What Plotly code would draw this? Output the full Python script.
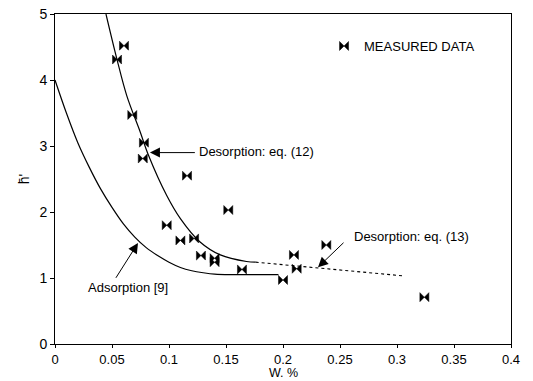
import plotly.graph_objects as go

# Measured data
meas_w = [0.0605, 0.0544, 0.0678, 0.078, 0.077, 0.1158, 0.098, 0.152, 0.110, 0.122,
          0.128, 0.140, 0.140, 0.164, 0.2096, 0.238, 0.212, 0.200, 0.324]
meas_h = [4.52, 4.31, 3.47, 3.05, 2.81, 2.55, 1.80, 2.03, 1.57, 1.60,
          1.34, 1.30, 1.24, 1.13, 1.35, 1.50, 1.14, 0.97, 0.71]

# Desorption eq. (12)
des12_w = [0.0447, 0.0544, 0.063, 0.0746, 0.082, 0.098, 0.11, 0.127, 0.145, 0.168, 0.176]
des12_h = [5.0, 4.31, 3.76, 3.22, 2.86, 2.25, 1.90, 1.55, 1.35, 1.25, 1.24]

# Desorption eq. (13)
des13_w = [0.176, 0.307]
des13_h = [1.24, 1.03]

# Adsorption [9]
ads_w = [0.0, 0.01, 0.02, 0.03, 0.04, 0.05, 0.06, 0.07, 0.08, 0.09, 0.10, 0.11, 0.12, 0.13, 0.14, 0.196]
ads_h = [4.0, 3.5, 3.05, 2.68, 2.35, 2.07, 1.82, 1.62, 1.46, 1.34, 1.24, 1.16, 1.11, 1.08, 1.06, 1.05]

x_ticks = [0, 0.05, 0.1, 0.15, 0.2, 0.25, 0.3, 0.35, 0.4]
x_labels = ["0", "0.05", "0.1", "0.15", "0.2", "0.25", "0.3", "0.35", "0.4"]
y_ticks = [0, 1, 2, 3, 4, 5]

FONT = "Liberation Sans, Arial, sans-serif"

fig = go.Figure()
fig.add_trace(go.Scatter(x=des12_w, y=des12_h, mode="lines", line=dict(color="black", width=1.2, shape="spline"), showlegend=False))
fig.add_trace(go.Scatter(x=des13_w, y=des13_h, mode="lines", line=dict(color="black", width=1.1, dash="3px,3px"), showlegend=False))
fig.add_trace(go.Scatter(x=ads_w, y=ads_h, mode="lines", line=dict(color="black", width=1.2, shape="spline", smoothing=1.0), showlegend=False))
fig.add_trace(go.Scatter(x=meas_w, y=meas_h, mode="markers", name="MEASURED DATA",
                         marker=dict(symbol="bowtie", size=9, color="black", line=dict(width=0.5, color="black"))))

def arrow(tx, ty, hx, hy):
    fig.add_annotation(x=hx, y=hy, ax=tx, ay=ty, xref="x", yref="y", axref="x", ayref="y",
                       text="", showarrow=True, arrowhead=2, arrowsize=2, arrowwidth=1, arrowcolor="black", standoff=0)

arrow(0.124, 2.90, 0.0833, 2.90)
arrow(0.2544, 1.556, 0.2307, 1.163)
arrow(0.0526, 0.98, 0.0728, 1.53)

fig.add_annotation(x=0.1246, y=2.92, xref="x", yref="y", text="Desorption: eq. (12)", showarrow=False,
                   xanchor="left", yanchor="middle", font=dict(size=13, color="black", family=FONT))
fig.add_annotation(x=0.2605, y=1.63, xref="x", yref="y", text="Desorption: eq. (13)", showarrow=False,
                   xanchor="left", yanchor="middle", font=dict(size=13, color="black", family=FONT))
fig.add_annotation(x=0.064, y=0.85, xref="x", yref="y", text="Adsorption [9]", showarrow=False,
                   xanchor="center", yanchor="middle", font=dict(size=13, color="black", family=FONT))
# x-axis title
fig.add_annotation(x=0.5, y=-0.088, xref="paper", yref="paper", text="W. %", showarrow=False,
                   xanchor="center", yanchor="middle", font=dict(size=12.5, color="black", family=FONT))

fig.update_layout(
    width=533, height=381,
    margin=dict(l=55, r=22, t=14, b=37),
    paper_bgcolor="white", plot_bgcolor="white",
    font=dict(family=FONT, size=13, color="black"),
    legend=dict(x=0.59, y=0.903, xanchor="left", yanchor="middle", bgcolor="rgba(0,0,0,0)",
                font=dict(size=13, family=FONT), itemwidth=30),
    showlegend=True,
)
fig.update_xaxes(range=[0, 0.4], tickvals=x_ticks, ticktext=x_labels, showgrid=False, zeroline=False,
                 showline=True, linecolor="black", linewidth=1, mirror=True, ticks="outside", ticklen=3,
                 tickcolor="black", tickfont=dict(size=13), automargin=False)
fig.update_yaxes(range=[0, 5], tickvals=y_ticks, showgrid=False, zeroline=False,
                 showline=True, linecolor="black", linewidth=1, mirror=True, ticks="outside", ticklen=4,
                 tickcolor="black", tickfont=dict(size=14), automargin=False,
                 title=dict(text="h\u0304'", standoff=6, font=dict(size=14)))

fig.write_html("out.html")
